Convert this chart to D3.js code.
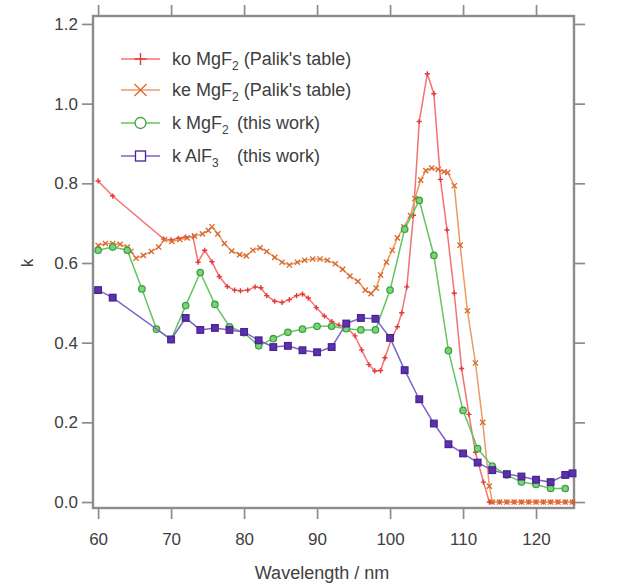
<!DOCTYPE html>
<html>
<head>
<meta charset="utf-8">
<script src="https://cdn.jsdelivr.net/npm/d3@7"></script>
<style>
  body { margin: 0; background: #fff; }
  svg { font-family: "Liberation Sans", Arial, sans-serif; }
</style>
</head>
<body>
<svg id="chart" width="633" height="587"></svg>
<script>
// ko MgF2 (Palik's table)
const koWl = [60, 62, 69, 70, 71, 72, 73, 73.7, 74.6, 75.6, 76.6, 77.7, 78.7, 79.5, 80.5, 81.5, 82.3, 83.1, 84.2, 85.2, 86.2, 87.2, 88, 88.8, 89.9, 91, 92, 93, 94.2, 95.2, 96.1, 97.1, 97.9, 98.7, 99.3, 100.2, 101, 101.6, 102.3, 103.2, 104, 105.1, 106, 106.9, 107.8, 108.8, 109.8, 110.8, 111.7, 112.8, 113.6, 114, 115, 116, 117, 118, 119, 120, 121, 122, 123, 124, 125];
const koK  = [0.806, 0.768, 0.66, 0.658, 0.662, 0.665, 0.666, 0.602, 0.632, 0.603, 0.566, 0.541, 0.532, 0.53, 0.532, 0.54, 0.538, 0.518, 0.504, 0.501, 0.508, 0.518, 0.522, 0.512, 0.488, 0.467, 0.453, 0.444, 0.435, 0.417, 0.382, 0.345, 0.329, 0.33, 0.362, 0.41, 0.44, 0.475, 0.54, 0.72, 0.955, 1.075, 1.025, 0.81, 0.683, 0.524, 0.335, 0.22, 0.125, 0.05, 0.0, 0, 0, 0, 0, 0, 0, 0, 0, 0, 0, 0, 0];

// ke MgF2 (Palik's table)
const keWl = [60, 61, 62, 63, 64, 64.5, 65.2, 66.2, 67.3, 68.3, 69.1, 70.1, 71.2, 72.2, 73.2, 74.3, 75.1, 75.6, 76.4, 77.3, 78.3, 79.4, 80.3, 81.2, 82.2, 83.1, 84.2, 85.2, 86.2, 87.3, 88.3, 89.4, 90.4, 91.4, 92.5, 93.5, 94.5, 95.6, 96.6, 97.4, 98.1, 98.7, 99.5, 100.3, 101, 101.9, 102.8, 103.4, 104.2, 104.9, 105.7, 106.6, 107.4, 107.9, 108.8, 109.6, 110.6, 111.7, 112.7, 113.6, 114, 115, 116, 117, 118, 119, 120, 121, 122, 123, 124, 125];
const keK  = [0.644, 0.649, 0.649, 0.647, 0.64, 0.629, 0.612, 0.619, 0.629, 0.64, 0.659, 0.654, 0.659, 0.663, 0.668, 0.673, 0.682, 0.691, 0.673, 0.649, 0.63, 0.621, 0.618, 0.632, 0.638, 0.629, 0.614, 0.602, 0.595, 0.602, 0.607, 0.61, 0.61, 0.607, 0.598, 0.584, 0.567, 0.554, 0.532, 0.523, 0.537, 0.57, 0.602, 0.632, 0.663, 0.691, 0.719, 0.762, 0.808, 0.832, 0.838, 0.835, 0.829, 0.827, 0.794, 0.645, 0.48, 0.349, 0.2, 0.04, 0, 0, 0, 0, 0, 0, 0, 0, 0, 0, 0, 0];

// k MgF2 (this work)
const mgWl = [60, 62, 64, 66, 68, 70, 72, 74, 76, 78, 80, 82, 84, 86, 88, 90, 92, 94, 96, 98, 100, 102, 104, 106, 108, 110, 112, 114, 116, 118, 120, 122, 124];
const mgK  = [0.632, 0.64, 0.632, 0.535, 0.434, 0.408, 0.493, 0.576, 0.496, 0.44, 0.425, 0.392, 0.41, 0.426, 0.434, 0.441, 0.441, 0.435, 0.432, 0.432, 0.532, 0.685, 0.757, 0.619, 0.38, 0.23, 0.134, 0.09, 0.068, 0.05, 0.044, 0.034, 0.034];

// k AlF3 (this work)
const alWl = [60, 62, 70, 72, 74, 76, 78, 80, 82, 84, 86, 88, 90, 92, 94, 96, 98, 100, 102, 104, 106, 108, 110, 112, 114, 116, 118, 120, 122, 124, 125];
const alK  = [0.532, 0.513, 0.408, 0.462, 0.432, 0.437, 0.432, 0.427, 0.406, 0.389, 0.392, 0.381, 0.376, 0.389, 0.448, 0.462, 0.46, 0.412, 0.331, 0.258, 0.197, 0.145, 0.122, 0.099, 0.08, 0.07, 0.064, 0.056, 0.05, 0.068, 0.072];

const xTicks = [60, 70, 80, 90, 100, 110, 120];
const yTicks = [0.0, 0.2, 0.4, 0.6, 0.8, 1.0, 1.2];

const svg = d3.select('#chart');
const pl = 93, pr = 574, pt = 16, pb = 508;

const x = d3.scaleLinear().domain([59.3, 125.2]).range([pl, pr]);
const y = d3.scaleLinear().domain([-0.015, 1.22]).range([pb, pt]);

const axisColor = '#8c8c8c';
const textColor = '#404040';

// ticks on all four sides, labels only left and bottom
function styleAxis(g) {
  g.select('.domain').remove();
  g.selectAll('.tick line').attr('stroke', axisColor).attr('stroke-width', 1.7);
  g.selectAll('.tick text').attr('fill', textColor).style('font-size', '17px')
    .style('font-family', '"Liberation Sans", Arial, sans-serif');
}

svg.append('g')
   .attr('transform', `translate(${pl},0)`)
   .call(d3.axisLeft(y).tickValues(yTicks).tickSize(11).tickPadding(4).tickFormat(d3.format('.1f')))
   .call(styleAxis);

svg.append('g')
   .attr('transform', `translate(0,${pb})`)
   .call(d3.axisBottom(x).tickValues(xTicks).tickSize(11).tickPadding(14).tickFormat(d3.format('d')))
   .call(styleAxis);

svg.append('g')
   .attr('transform', `translate(${pr},0)`)
   .call(d3.axisRight(y).tickValues(yTicks).tickSize(11).tickFormat(''))
   .call(styleAxis);

svg.append('g')
   .attr('transform', `translate(0,${pt})`)
   .call(d3.axisTop(x).tickValues(xTicks).tickSize(11).tickFormat(''))
   .call(styleAxis);

svg.append('rect')
   .attr('x', pl).attr('y', pt)
   .attr('width', pr - pl).attr('height', pb - pt)
   .attr('fill', 'none').attr('stroke', axisColor).attr('stroke-width', 2.4);

// axis titles
svg.append('text')
   .attr('x', 322).attr('y', 579)
   .attr('text-anchor', 'middle')
   .attr('fill', textColor)
   .style('font-size', '18px')
   .text('Wavelength / nm');

svg.append('text')
   .attr('transform', 'translate(33,263) rotate(-90)')
   .attr('text-anchor', 'middle')
   .attr('fill', textColor)
   .style('font-size', '17px')
   .text('k');

const series = [
  { wl: koWl, k: koK, line: '#f47272', mark: '#e23a3a', shape: 'plus' },
  { wl: keWl, k: keK, line: '#ec9a62', mark: '#d9672c', shape: 'cross' },
  { wl: mgWl, k: mgK, line: '#62c462', mark: '#3f9f3f', fill: '#7ad47a', shape: 'circle' },
  { wl: alWl, k: alK, line: '#7f62c6', mark: '#4a2396', fill: '#5b32a8', shape: 'square' }
];

const line = d3.line().x(d => x(d[0])).y(d => y(d[1]));

function marker(sel, s, size, hollow) {
  if (s.shape === 'plus') {
    sel.append('path').attr('d', `M${-size},0H${size}M0,${-size}V${size}`)
       .attr('stroke', s.mark).attr('stroke-width', 1.4).attr('fill', 'none');
  } else if (s.shape === 'cross') {
    sel.append('path').attr('d', `M${-size},${-size}L${size},${size}M${-size},${size}L${size},${-size}`)
       .attr('stroke', s.mark).attr('stroke-width', 1.3).attr('fill', 'none');
  } else if (s.shape === 'circle') {
    sel.append('circle').attr('r', size)
       .attr('fill', hollow ? '#fff' : s.fill).attr('stroke', s.mark).attr('stroke-width', 1.3);
  } else {
    sel.append('rect').attr('x', -size).attr('y', -size).attr('width', 2 * size).attr('height', 2 * size)
       .attr('fill', hollow ? '#fff' : s.fill).attr('stroke', s.mark).attr('stroke-width', 1.3);
  }
}

const plot = svg.append('g');

series.forEach(s => {
  const pts = s.wl.map((w, i) => [w, s.k[i]]);
  plot.append('path')
      .datum(pts)
      .attr('d', line)
      .attr('fill', 'none')
      .attr('stroke', s.line)
      .attr('stroke-width', 1.5);
  plot.selectAll(null)
      .data(pts)
      .enter()
      .append('g')
      .attr('transform', d => `translate(${x(d[0])},${y(d[1])})`)
      .each(function () {
        const size = s.shape === 'square' ? 3.3 : (s.shape === 'circle' ? 3.2 : 2.6);
        marker(d3.select(this), s, size, false);
      });
});

// legend
const legendRows = [
  { label: 'ko MgF', sub: '2', tail: ' (Palik\'s table)', tailX: null },
  { label: 'ke MgF', sub: '2', tail: ' (Palik\'s table)', tailX: null },
  { label: 'k MgF', sub: '2', tail: '(this work)', tailX: 237 },
  { label: 'k AlF', sub: '3', tail: '(this work)', tailX: 237 }
];
const legendY = [59, 90, 123, 156];

legendRows.forEach((r, i) => {
  const s = series[i];
  const ly = legendY[i];
  svg.append('line')
     .attr('x1', 121).attr('x2', 160).attr('y1', ly).attr('y2', ly)
     .attr('stroke', s.line).attr('stroke-width', 1.5);
  const g = svg.append('g').attr('transform', `translate(140.5,${ly})`);
  marker(g, s, s.shape === 'square' ? 5 : (s.shape === 'circle' ? 5.5 : 6), true);

  const t = svg.append('text')
     .attr('x', 172).attr('y', ly + 6)
     .attr('fill', textColor)
     .style('font-size', '18px');
  t.append('tspan').text(r.label);
  t.append('tspan').attr('dy', 5).style('font-size', '12px').text(r.sub);
  if (r.tailX === null) {
    t.append('tspan').attr('dy', -5).text(r.tail);
  } else {
    svg.append('text')
       .attr('x', r.tailX).attr('y', ly + 6)
       .attr('fill', textColor)
       .style('font-size', '18px')
       .text(r.tail);
  }
});
</script>
</body>
</html>
